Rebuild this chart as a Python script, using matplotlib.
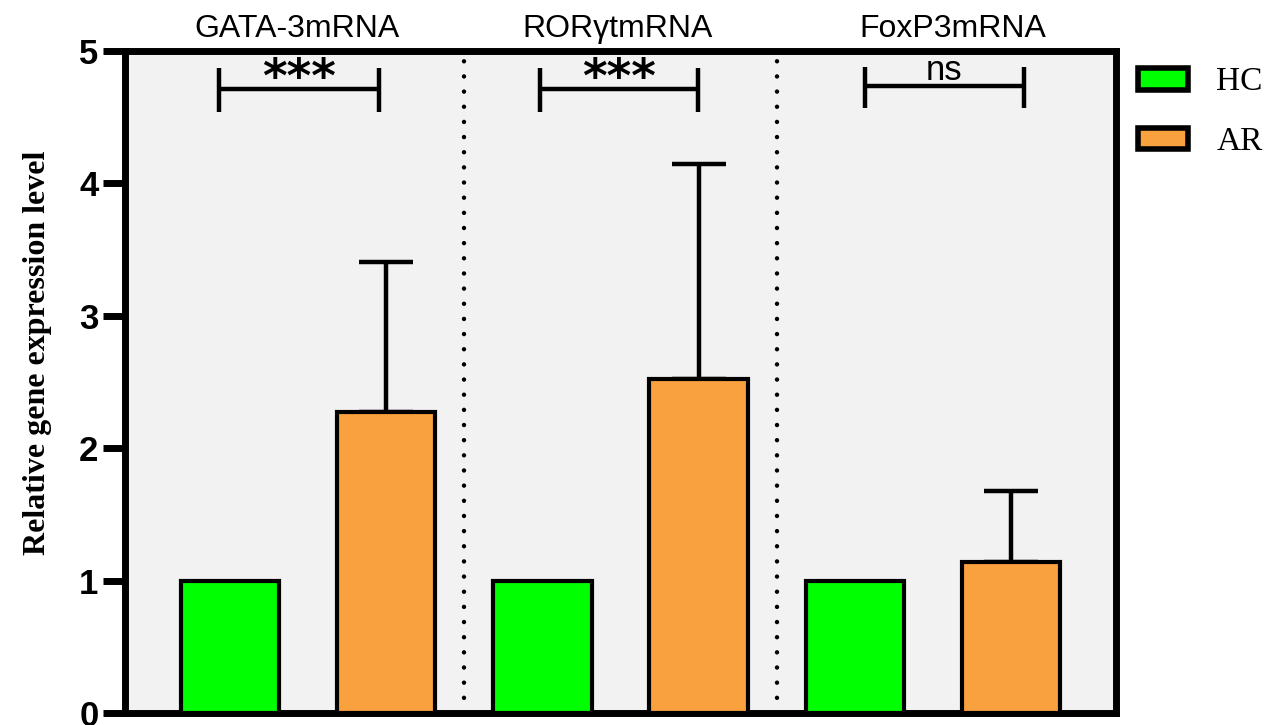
import matplotlib
matplotlib.use('Agg')
import matplotlib.pyplot as plt
from matplotlib.patches import Patch
import numpy as np

genes = ['GATA-3mRNA', 'RORγtmRNA', 'FoxP3mRNA']
groups = ['HC', 'AR']
hc_mean = [1.0, 1.0, 1.0]
ar_mean = [2.27, 2.52, 1.14]
ar_err = [1.14, 1.63, 0.54]
sig_labels = ['***', '***', 'ns']
y_ticks = [0, 1, 2, 3, 4, 5]

GREEN = '#00ff00'
ORANGE = '#f9a13f'

W, H = 1269, 725
fig = plt.figure(figsize=(W / 100, H / 100), dpi=100)
ax = fig.add_axes([125 / W, (H - 713) / H, (1116 - 125) / W, (713 - 51) / H])
ax.set_facecolor('#f2f2f2')

hc_x = np.arange(len(genes)) * 2.0
ar_x = hc_x + 1.0
bw = 0.63
ax.bar(hc_x, hc_mean, width=bw, color=GREEN, edgecolor='black', linewidth=3, zorder=3)
ax.bar(ar_x, ar_mean, width=bw, color=ORANGE, edgecolor='black', linewidth=3, zorder=3)
ax.errorbar(ar_x, ar_mean, yerr=[np.zeros(len(ar_x)), ar_err], fmt='none',
            ecolor='black', elinewidth=3.2, capsize=19.5, capthick=3.2, zorder=2)

# dotted separators between gene groups
for xs in (hc_x[1:] + hc_x[:-1]) / 2 + 0.5:
    ax.axvline(xs, color='black', lw=3.2, linestyle=(0, (0.01, 3.4)),
               dash_capstyle='round', zorder=1)

# significance brackets
left_off = [-0.07, -0.015, 0.065]
right_off = [-0.046, -0.004, 0.083]
hy = [4.71, 4.71, 4.735]
vlo = [4.54, 4.54, 4.57]
vhi = [4.87, 4.87, 4.88]
for i in range(len(genes)):
    x0 = hc_x[i] + left_off[i]
    x1 = ar_x[i] + right_off[i]
    ax.plot([x0, x1], [hy[i], hy[i]], color='black', lw=3.2, solid_capstyle='butt', zorder=4)
    ax.plot([x0, x0], [vlo[i], vhi[i]], color='black', lw=3.2, solid_capstyle='butt', zorder=4)
    ax.plot([x1, x1], [vlo[i], vhi[i]], color='black', lw=3.2, solid_capstyle='butt', zorder=4)
    xm = (x0 + x1) / 2
    if sig_labels[i] == 'ns':
        ax.text(xm, 4.78, sig_labels[i], ha='center', va='baseline',
                fontsize=25, family='Liberation Sans', zorder=5)
    else:
        ax.text(xm, 4.69, sig_labels[i], ha='center', va='baseline',
                fontsize=34, family='DejaVu Sans', fontweight='bold', zorder=5)

# gene titles above plot
title_off = [0.43, 0.48, 0.63]
for i, g in enumerate(genes):
    ax.text(hc_x[i] + title_off[i], 5.106, g, ha='center', va='baseline',
            fontsize=23, family='Liberation Sans', clip_on=False)

ax.set_xlim(-0.672, 5.672)
ax.set_ylim(0, 5)
ax.set_xticks([])
ax.set_yticks(y_ticks)
ax.set_yticklabels([str(t) for t in y_ticks], fontsize=25, family='Liberation Sans',
                   fontweight='bold')
ax.tick_params(axis='y', length=16, width=5, pad=3, direction='out')
for s in ax.spines.values():
    s.set_linewidth(5)
    s.set_color('black')

fig.text(38 / W, 1 - 353 / H, 'Relative gene expression level', rotation=90,
         ha='center', va='center', fontsize=23, family='Liberation Serif',
         fontweight='bold')

handles = [Patch(facecolor=GREEN, edgecolor='black', linewidth=4),
           Patch(facecolor=ORANGE, edgecolor='black', linewidth=4)]
fig.legend(handles, groups, loc='upper left', bbox_to_anchor=(1138 / W, 1 - 67 / H),
           frameon=False, prop={'family': 'Liberation Serif', 'size': 24},
           handlelength=1.5, handleheight=0.62, handletextpad=0.85,
           labelspacing=0.88, borderpad=0, borderaxespad=0)

fig.savefig('out.png', dpi=100)
